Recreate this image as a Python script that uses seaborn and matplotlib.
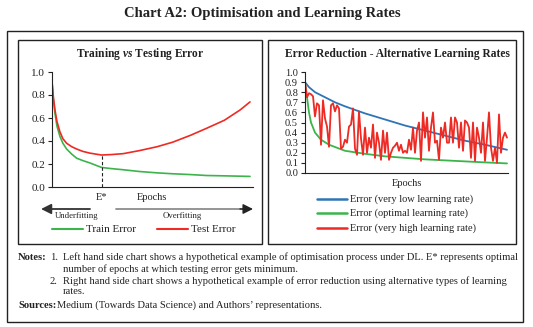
import numpy as np
import pandas as pd
import matplotlib
matplotlib.use("Agg")
import matplotlib.pyplot as plt
import seaborn as sns
from matplotlib.patches import Rectangle, FancyArrowPatch
from matplotlib.lines import Line2D

# ---------------- data ----------------
main_title = "Chart A2: Optimisation and Learning Rates"

# Left chart: training vs testing error
fit_epochs = [0, 0.7, 1.5, 2.5, 4, 5.5, 7.4, 10, 12.5, 15.5, 19, 25, 30, 36, 44, 53, 61, 70, 78, 87, 95, 100]
train_error = [0.915, 0.76, 0.64, 0.53, 0.44, 0.38, 0.33, 0.285, 0.25, 0.23, 0.21, 0.17, 0.16, 0.15, 0.135, 0.123,
               0.115, 0.108, 0.100, 0.097, 0.094, 0.092]
test_error = [0.915, 0.78, 0.67, 0.57, 0.48, 0.42, 0.38, 0.35, 0.33, 0.31, 0.295, 0.278, 0.282, 0.29, 0.316,
              0.35, 0.39, 0.45, 0.51, 0.58, 0.67, 0.74]
left_yticks = [0.0, 0.2, 0.4, 0.6, 0.8, 1.0]

# Right chart: alternative learning rates
low_epochs = [0, 2, 5, 10, 15, 20, 30, 40, 50, 60, 70, 80, 90, 101]
low_lr = [0.90, 0.85, 0.80, 0.75, 0.70, 0.66, 0.59, 0.53, 0.47, 0.42, 0.37, 0.32, 0.28, 0.23]
opt_epochs = [0, 1, 2, 3, 5, 8, 12, 20, 30, 40, 50, 60, 70, 80, 90, 101]
opt_lr = [0.90, 0.75, 0.60, 0.50, 0.40, 0.33, 0.28, 0.22, 0.19, 0.165, 0.15, 0.135, 0.125, 0.115, 0.105, 0.095]
high_lr = [0.90, 0.75, 0.79, 0.78, 0.76, 0.56, 0.69, 0.67, 0.28, 0.72, 0.54, 0.46, 0.26, 0.67, 0.69,
           0.61, 0.67, 0.64, 0.24, 0.26, 0.33, 0.30, 0.46, 0.48, 0.64, 0.24, 0.18, 0.61, 0.34, 0.18,
           0.45, 0.20, 0.35, 0.25, 0.48, 0.15, 0.40, 0.30, 0.13, 0.42, 0.20, 0.40, 0.13, 0.20, 0.25,
           0.27, 0.30, 0.22, 0.28, 0.20, 0.22, 0.20, 0.33, 0.23, 0.45, 0.20, 0.42, 0.50, 0.12, 0.60,
           0.35, 0.55, 0.22, 0.45, 0.60, 0.30, 0.32, 0.13, 0.45, 0.35, 0.50, 0.30, 0.30, 0.55, 0.30,
           0.55, 0.50, 0.25, 0.50, 0.22, 0.52, 0.50, 0.45, 0.15, 0.50, 0.12, 0.45, 0.35, 0.20, 0.50,
           0.12, 0.35, 0.60, 0.25, 0.12, 0.25, 0.10, 0.58, 0.20, 0.35, 0.40, 0.35]
high_epochs = list(range(len(high_lr)))
right_yticks = [0.0, 0.1, 0.2, 0.3, 0.4, 0.5, 0.6, 0.7, 0.8, 0.9, 1.0]

left_labels = ["Train Error", "Test Error"]
right_labels = ["Error (very low learning rate)", "Error (optimal learning rate)", "Error (very high learning rate)"]

notes = [
    "Left hand side chart shows a hypothetical example of optimisation process under DL. E* represents optimal",
    "number of epochs at which testing error gets minimum.",
    "Right hand side chart shows a hypothetical example of error reduction using alternative types of learning",
    "rates.",
]
sources = "Medium (Towards Data Science) and Authors\u2019 representations."

# ---------------- style ----------------
sns.set_theme(style="white")
plt.rcParams["font.family"] = ["Liberation Serif", "DejaVu Serif"]
plt.rcParams["mathtext.fontset"] = "custom"
plt.rcParams["mathtext.it"] = "Liberation Serif:italic:bold"
plt.rcParams["mathtext.rm"] = "Liberation Serif:bold"

GREEN = "#3cb44b"
RED = "#ee2a24"
BLUE = "#2e75b6"

W, H = 533, 327
fig = plt.figure(figsize=(W / 100, H / 100), dpi=100)
fig.patch.set_facecolor("white")


def fx(x):
    return x / W


def fy(y):
    return 1 - y / H


def box(x0, y0, x1, y1, lw=1.0):
    fig.patches.append(Rectangle((fx(x0), fy(y1)), (x1 - x0) / W, (y1 - y0) / H,
                                 transform=fig.transFigure, fill=False, lw=lw, ec="#222222"))


box(7, 30.5, 523, 322)
box(17.5, 40, 261.5, 244)
box(268, 40, 516, 244)

fig.text(fx(262), fy(13), main_title, ha="center", va="center", fontsize=10.5, fontweight="bold", color="#222222")

# ---------------- left chart ----------------
axL = fig.add_axes([fx(52), fy(187), (253 - 52) / W, (187 - 72) / H])
dfL = pd.DataFrame({"epoch": fit_epochs * 2,
                    "error": train_error + test_error,
                    "series": [left_labels[0]] * len(fit_epochs) + [left_labels[1]] * len(fit_epochs)})
sns.lineplot(data=dfL, x="epoch", y="error", hue="series", palette=[GREEN, RED],
             ax=axL, legend=False, linewidth=1.2)
e_star = fit_epochs[int(np.argmin(test_error))]
axL.vlines(e_star, 0, min(test_error), colors="#222222", linestyles=(0, (3, 2)), lw=0.8)
axL.set_xlim(0, 101.5)
axL.set_ylim(0, 1.0)
axL.set_yticks(left_yticks)
axL.set_yticklabels([f"{v:.1f}" for v in left_yticks])
axL.set_xticks([])
axL.set_xlabel("")
axL.set_ylabel("")
for s in ["top", "right"]:
    axL.spines[s].set_visible(False)
for s in ["left", "bottom"]:
    axL.spines[s].set_color("#222222")
    axL.spines[s].set_linewidth(0.8)
axL.tick_params(axis="y", which="major", left=True, length=3, width=0.8, color="#222222",
                labelsize=8, pad=2, labelcolor="#222222")
axL.set_facecolor("none")

fig.text(fx(140), fy(54), r"Training $vs$ Testing Error", ha="center", va="center",
         fontsize=8.3, fontweight="bold", color="#222222")
fig.text(fx(102), fy(197), "E*", ha="center", va="center", fontsize=7.5, color="#222222")
fig.text(fx(152), fy(198), "Epochs", ha="center", va="center", fontsize=7.5, color="#222222")
fig.text(fx(77), fy(216), "Underfitting", ha="center", va="center", fontsize=6.3, color="#222222")
fig.text(fx(182), fy(216), "Overfitting", ha="center", va="center", fontsize=6.3, color="#222222")

# arrows
fig.patches.append(FancyArrowPatch((fx(90), fy(209)), (fx(41), fy(209)), transform=fig.transFigure,
                                   arrowstyle="-|>,head_length=0.6,head_width=0.3", mutation_scale=10,
                                   color="#333333", lw=1.3, shrinkA=0, shrinkB=0))
fig.patches.append(FancyArrowPatch((fx(116), fy(209)), (fx(245), fy(209)), transform=fig.transFigure,
                                   arrowstyle="-", color="#8c8c8c", lw=1.3, shrinkA=0, shrinkB=0))
fig.patches.append(FancyArrowPatch((fx(240), fy(209)), (fx(253), fy(209)), transform=fig.transFigure,
                                   arrowstyle="-|>,head_length=0.6,head_width=0.3", mutation_scale=10,
                                   color="#222222", lw=1.0, shrinkA=0, shrinkB=0))

# left legend
for (x0, x1, tx), lab, col in zip([(52, 83, 86), (157, 188, 191)], left_labels, [GREEN, RED]):
    fig.add_artist(Line2D([fx(x0), fx(x1)], [fy(229), fy(229)], transform=fig.transFigure, color=col, lw=1.5))
    fig.text(fx(tx), fy(229), lab, ha="left", va="center", fontsize=8, color="#222222")

# ---------------- right chart ----------------
axR = fig.add_axes([fx(305), fy(173), (508 - 305) / W, (173 - 72) / H])
dfR = pd.DataFrame({"epoch": low_epochs + opt_epochs + high_epochs,
                    "error": low_lr + opt_lr + high_lr,
                    "series": [right_labels[0]] * len(low_epochs) + [right_labels[1]] * len(opt_epochs)
                              + [right_labels[2]] * len(high_epochs)})
sns.lineplot(data=dfR, x="epoch", y="error", hue="series", palette=[BLUE, GREEN, RED],
             ax=axR, legend=False, linewidth=1.3)
axR.set_xlim(0, 101.5)
axR.set_ylim(0, 1.0)
axR.set_yticks(right_yticks)
axR.set_yticklabels([f"{v:.1f}" for v in right_yticks])
axR.set_xticks([])
axR.set_xlabel("")
axR.set_ylabel("")
for s in ["top", "right"]:
    axR.spines[s].set_visible(False)
for s in ["left", "bottom"]:
    axR.spines[s].set_color("#222222")
    axR.spines[s].set_linewidth(0.8)
axR.tick_params(axis="y", which="major", left=True, length=3, width=0.8, color="#222222",
                labelsize=7.5, pad=2, labelcolor="#222222")
axR.set_facecolor("none")

fig.text(fx(397), fy(54), "Error Reduction - Alternative Learning Rates", ha="center", va="center",
         fontsize=8.3, fontweight="bold", color="#222222")
fig.text(fx(407), fy(184), "Epochs", ha="center", va="center", fontsize=7.5, color="#222222")

for yy, lab, col in zip([199, 213, 228], right_labels, [BLUE, GREEN, RED]):
    fig.add_artist(Line2D([fx(317), fx(347)], [fy(yy), fy(yy)], transform=fig.transFigure, color=col, lw=1.8))
    fig.text(fx(350), fy(yy), lab, ha="left", va="center", fontsize=7.5, color="#222222")

# ---------------- notes ----------------
NFS = 7.6
fig.text(fx(18), fy(257), "Notes:", ha="left", va="center", fontsize=NFS, fontweight="bold", color="#222222")
fig.text(fx(50), fy(257), "1.", ha="left", va="center", fontsize=NFS, color="#222222")
fig.text(fx(63), fy(257), notes[0], ha="left", va="center", fontsize=NFS, color="#222222")
fig.text(fx(63), fy(269), notes[1], ha="left", va="center", fontsize=NFS, color="#222222")
fig.text(fx(50), fy(281), "2.", ha="left", va="center", fontsize=NFS, color="#222222")
fig.text(fx(63), fy(281), notes[2], ha="left", va="center", fontsize=NFS, color="#222222")
fig.text(fx(63), fy(292), notes[3], ha="left", va="center", fontsize=NFS, color="#222222")
fig.text(fx(18), fy(305), "Sources:", ha="left", va="center", fontsize=NFS, fontweight="bold", color="#222222")
fig.text(fx(57), fy(305), sources, ha="left", va="center", fontsize=NFS, color="#222222")

fig.savefig("out.png", dpi=100)
